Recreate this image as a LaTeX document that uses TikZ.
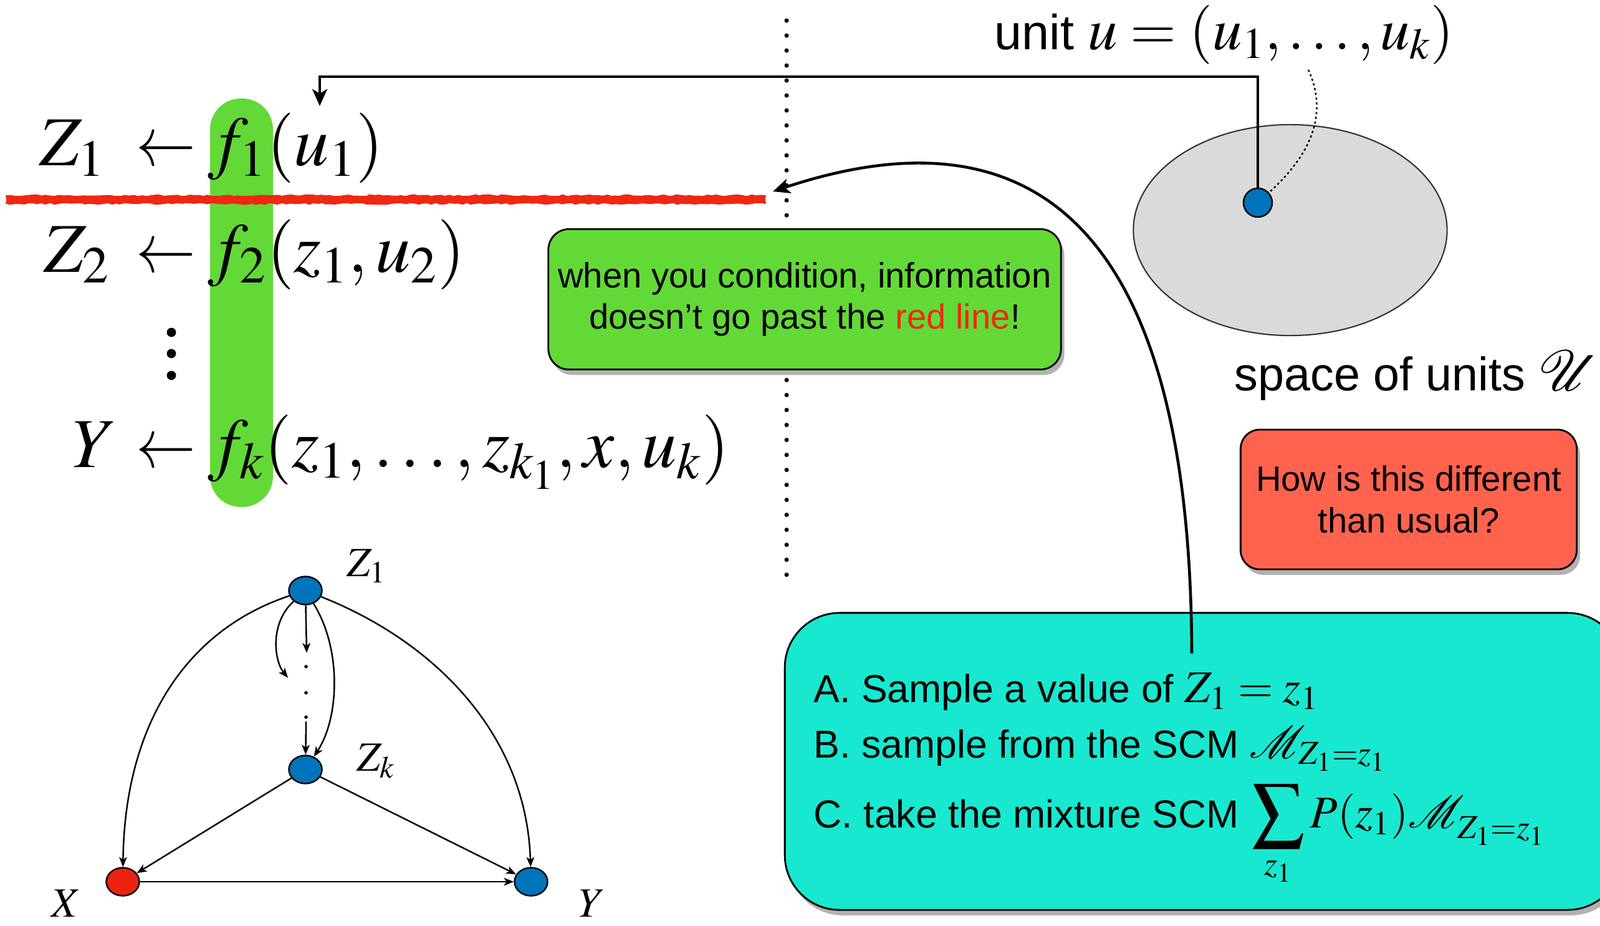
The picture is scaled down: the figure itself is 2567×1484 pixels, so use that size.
\documentclass[tikz,border=0pt]{standalone}
\usepackage{mathptmx}
\usepackage[no-math]{fontspec}
\setmainfont{Liberation Sans}
\usepackage{graphicx}
\usetikzlibrary{arrows.meta,shapes.geometric,shadows,decorations.pathmorphing}
\definecolor{dagblue}{RGB}{0,116,186}
\definecolor{dagred}{RGB}{236,34,16}
\definecolor{limegreen}{RGB}{99,217,55}
\definecolor{boxcyan}{RGB}{24,232,208}
\definecolor{boxred}{RGB}{255,99,77}
\definecolor{linered}{RGB}{238,40,18}
\definecolor{ellgray}{RGB}{218,218,218}
\newcommand{\mymath}[2]{{\fontsize{#1}{#1}\selectfont$#2$}}
\newcommand{\bigsumop}{\mathop{\vcenter{\hbox{\scalebox{1.14}{$\displaystyle\sum$}}}}\limits}
\newcommand{\Msubz}{\mathcal{M}_{\lower2pt\hbox{$\scriptstyle Z_1=z_1$}}}
\begin{document}
\begin{tikzpicture}[x=0.01cm,y=-0.01cm,
  eq/.style={inner sep=0pt, font=\fontsize{32}{38}\selectfont},
  dagnode/.style={ellipse, draw=black, line width=0.7pt, minimum width=0.53cm, minimum height=0.45cm, inner sep=0pt},
  dagedge/.style={line width=0.7pt, -{Stealth[length=4.5pt,width=3.6pt,inset=1.2pt]}},
  daglabel/.style={inner sep=0pt, font=\fontsize{19}{22}\selectfont},
  bigarrow/.style={line width=1.3pt, -{Stealth[length=7.7pt,width=6.8pt,inset=2pt]}},
  callout/.style={draw=black, line width=0.8pt, align=center, inner sep=0pt,
    drop shadow={shadow xshift=1.5pt, shadow yshift=-2.5pt, opacity=0.3, fill=black}},
  sanstext/.style={font=\fontsize{16}{19}\selectfont},
  linetext/.style={anchor=base west, inner sep=0pt, font=\fontsize{17.8}{21}\selectfont},
  roughred/.style={linered, line width=0.9pt, line join=round, line cap=round, decorate,
    decoration={random steps,segment length=2pt,amplitude=0.45pt}},
]
\useasboundingbox (0,0) rectangle (2567,1484);
\clip (0,0) rectangle (2567,1484);
\fill[white] (0,0) rectangle (2567,1484);

% green highlight bar
\fill[limegreen, rounded corners=14pt] (337,158) rectangle (438,813);

% red line
\coordinate (redL) at (10,320);
\coordinate (redR) at (1228,320);
\draw[linered, line width=3.2pt] (redL) -- (redR);
\draw[roughred] ([yshift=1.5pt]redL) -- ([yshift=1.5pt]redR);
\draw[roughred] ([yshift=-1.5pt]redL) -- ([yshift=-1.5pt]redR);

% equations
\node[eq, anchor=base east] (lhs1) at (170,265) {$Z_1$};
\node[eq, anchor=base] (arr1) at (266,265) {\scalebox{0.85}[1]{$\leftarrow$}};
\node[eq, anchor=base west] (rhs1) at (333,265) {$f_1(u_1)$};
\node[eq, anchor=base east] (lhs2) at (177,436) {$Z_2$};
\node[eq, anchor=base] (arr2) at (266,436) {\scalebox{0.85}[1]{$\leftarrow$}};
\node[eq, anchor=base west] (rhs2) at (333,436) {$f_2(z_1, u_2)$};
\node[eq, anchor=base east] (lhs3) at (188,749) {$Y$};
\node[eq, anchor=base] (arr3) at (266,749) {\scalebox{0.85}[1]{$\leftarrow$}};
\node[eq, anchor=base west] (rhs3) at (333,749) {$f_k(z_1, \ldots, z_{k_1}, x, u_k)$};
\fill (275,533) circle (2.1pt);
\fill (275,567) circle (2.1pt);
\fill (275,602) circle (2.1pt);

% dotted divider
\coordinate (vtop) at (1262,33);
\coordinate (vbot) at (1262,935);
\draw[line width=2pt, line cap=round, dash pattern=on 0pt off 6.83pt] (vtop) -- (vbot);

% space of units
\node[ellipse, fill=ellgray, draw=black!80, line width=0.6pt, minimum width=5.03cm, minimum height=3.38cm] (uspace) at (2070,369) {};
\node[ellipse, fill=dagblue, draw=black, line width=0.7pt, minimum width=0.46cm, minimum height=0.46cm, inner sep=0pt] (udot) at (2018,325) {};
\node[anchor=base west, inner sep=0pt, font=\fontsize{22.5}{26}\selectfont] (unitlbl) at (1595,79) {unit \mymath{27}{u = (u_1, \ldots, u_k)}};
\node[anchor=base west, inner sep=0pt, font=\fontsize{21.5}{26}\selectfont] (spacelbl) at (1980,626) {space of units \mymath{26}{\mathcal{U}}};
\coordinate (dstart) at (2099,112);
\draw[line width=0.7pt, dash pattern=on 1pt off 1.2pt] (dstart) .. controls (2128,175) and (2112,240) .. (udot);

% connector from unit to f1
\coordinate (corner) at (513,123);
\coordinate (ftip) at (513,170);
\draw[bigarrow] (udot.north) |- (corner) -- (ftip);

% callouts
\node[callout, fill=limegreen, rounded corners=9.4pt, minimum width=8.22cm, minimum height=2.25cm, sanstext] (gbox) at (1291,480)
  {when you condition, information\\doesn’t go past the \textcolor{linered}{red line}!};
\node[callout, fill=boxred, rounded corners=8.8pt, minimum width=5.39cm, minimum height=2.24cm, sanstext] (rbox) at (2260,801)
  {How is this different\\than usual?};
\node[callout, fill=boxcyan, rounded corners=25pt, minimum width=13.43cm, minimum height=4.76cm] (cbox) at (1931,1221) {};
\node[linetext] (lineA) at (1305,1126) {A. Sample a value of \mymath{20.7}{Z_1 = z_1}};
\node[linetext] (lineB) at (1305,1215) {B. sample from the SCM \mymath{20.7}{\mathcal{M}_{Z_1=z_1}}};
\node[linetext] (lineC) at (1305,1327) {C. take the mixture SCM\hspace{6pt}\mymath{20.7}{\bigsumop_{z_1} P(z_1)\Msubz}};

% curved arrow from box to red line
\coordinate (cstart) at (1912,1048);
\coordinate (ctip) at (1240,307);
\draw[bigarrow] (cstart) .. controls (1910,350) and (1650,170) .. (ctip);

% DAG
\node[dagnode, fill=dagblue] (z1) at (490,947) {};
\node[dagnode, fill=dagblue] (zk) at (490,1234) {};
\node[dagnode, fill=dagred] (xn) at (197,1414) {};
\node[dagnode, fill=dagblue] (yn) at (852,1414) {};
\node[daglabel, anchor=base west] (z1lbl) at (556,924) {$Z_1$};
\node[daglabel, anchor=base west] (zklbl) at (572,1236) {$Z_k$};
\node[daglabel, anchor=base west] (xlbl) at (82,1470) {$X$};
\node[daglabel, anchor=base west] (ylbl) at (928,1470) {$Y$};
\draw[dagedge] (z1) .. controls (300,1010) and (200,1160) .. (xn);
\draw[dagedge] (z1) .. controls (700,1030) and (845,1180) .. (yn);
\coordinate (dA) at (492,1047);
\draw[dagedge] (z1) -- (dA);
\coordinate (dB) at (462,1087);
\draw[dagedge] (z1) .. controls (432,1000) and (440,1060) .. (dB);
\fill (491,1069) circle (0.8pt);
\fill (491,1111) circle (0.8pt);
\fill (491,1150) circle (0.8pt);
\coordinate (dC) at (491,1157);
\draw[dagedge] (dC) -- (zk);
\draw[dagedge] (z1) .. controls (548,1040) and (545,1150) .. (zk);
\draw[dagedge] (zk) -- (xn);
\draw[dagedge] (zk) -- (yn);
\draw[dagedge] (xn) -- (yn);
\end{tikzpicture}
\end{document}
